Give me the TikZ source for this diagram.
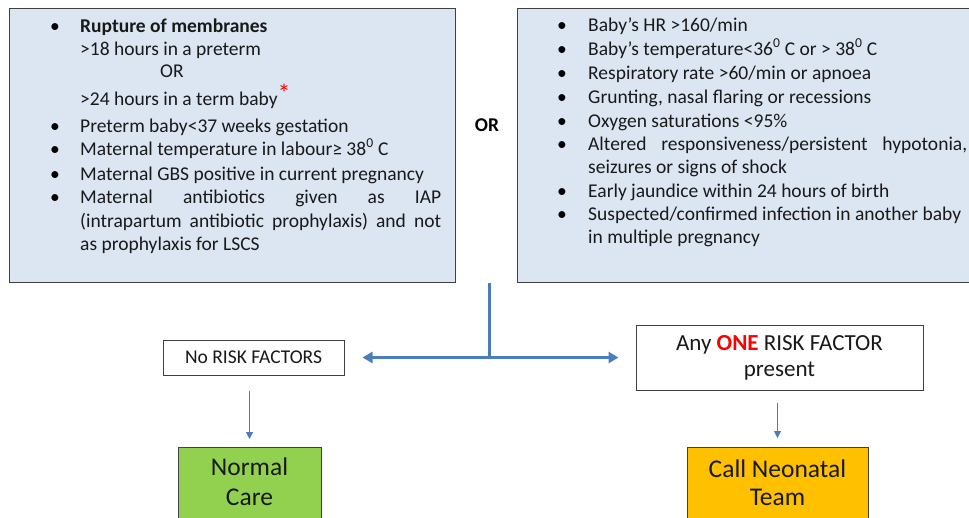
\documentclass[tikz,border=0pt]{standalone}
\usepackage{fontspec}
\setmainfont{Carlito}
\usetikzlibrary{arrows.meta}
\definecolor{boxblue}{HTML}{DCE6F2}
\definecolor{edgegray}{HTML}{404040}
\definecolor{arrowblue}{HTML}{4A7EBB}
\definecolor{careGreen}{HTML}{92D050}
\definecolor{teamOrange}{HTML}{FFC000}
\definecolor{oneRed}{HTML}{FF0000}
\tikzset{
  riskbox/.style={draw=edgegray, line width=1.4pt, fill=boxblue, inner sep=0pt, anchor=north west},
  txt/.style={anchor=base west, inner sep=0pt, font=\fontsize{19.5}{23}\selectfont, text=black!90},
  bul/.style={anchor=base, inner sep=0pt, font=\fontsize{19.5}{23}\selectfont},
  flowbox/.style={draw=edgegray, line width=1pt, fill=white, inner sep=0pt},
  endbox/.style={draw=edgegray, line width=1pt, inner sep=0pt, anchor=north},
  endtxt/.style={anchor=base, inner sep=0pt, font=\fontsize{25.5}{30}\selectfont, text=black!90},
  link/.style={draw=arrowblue, line width=3pt},
  bigtip/.style={-{Triangle[length=10pt,width=11pt]}},
  downarrow/.style={draw=arrowblue, line width=1pt, -{Triangle[length=7pt,width=7pt]}}
}
\begin{document}
\begin{tikzpicture}[x=1pt,y=-1pt]
\clip (0,0) rectangle (969,517);
\fill[white] (0,0) rectangle (969,517);

% risk factor boxes
\node[riskbox, minimum width=446pt, minimum height=274pt] (leftbox) at (9,8) {};
\node[riskbox, minimum width=470pt, minimum height=274pt] (rightbox) at (517,8) {};

% left box text
\node[bul] (lb1) at (55,32) {•};
\node[txt] (l1) at (80,32) {\textbf{Rupture of membranes}};
\node[txt] (l2) at (80,55) {>18 hours in a preterm};
\node[txt] (l3) at (160,77) {OR};
\node[txt] (l4) at (80,105) {>24 hours in a term baby\textcolor{oneRed}{\raisebox{0.3ex}{\fontsize{26}{26}\selectfont *}}};
\node[bul] (lb5) at (55,132) {•};
\node[txt] (l5) at (80,132) {Preterm baby<37 weeks gestation};
\node[bul] (lb6) at (55,155) {•};
\node[txt] (l6) at (80,155) {Maternal temperature in labour≥ 38\textsuperscript{0} C};
\node[bul] (lb7) at (55,180) {•};
\node[txt] (l7) at (80,180) {Maternal GBS positive in current pregnancy};
\node[bul] (lb8) at (55,203) {•};
\node[txt] (l8) at (80,203) {\makebox[361pt][s]{Maternal antibiotics given as IAP}};
\node[txt] (l9) at (80,227) {\makebox[361pt][s]{(intrapartum antibiotic prophylaxis) and not}};
\node[txt] (l10) at (80,250) {as prophylaxis for LSCS};

% OR
\node[anchor=center, inner sep=0pt, font=\fontsize{19.5}{23}\selectfont\bfseries] (ortxt) at (487,125) {OR};

% right box text
\node[bul] (rb1) at (562,31) {•};
\node[txt] (r1) at (588,31) {Baby’s HR >160/min};
\node[bul] (rb2) at (562,55) {•};
\node[txt] (r2) at (588,55) {Baby’s temperature<36\textsuperscript{0} C or > 38\textsuperscript{0} C};
\node[bul] (rb3) at (562,79) {•};
\node[txt] (r3) at (588,79) {Respiratory rate >60/min or apnoea};
\node[bul] (rb4) at (562,103) {•};
\node[txt] (r4) at (588,103) {Grunting, nasal flaring or recessions};
\node[bul] (rb5) at (562,127) {•};
\node[txt] (r5) at (588,127) {Oxygen saturations <95\%};
\node[bul] (rb6) at (562,150) {•};
\node[txt] (r6) at (588,150) {\makebox[379pt][s]{Altered responsiveness/persistent hypotonia,}};
\node[txt] (r7) at (588,173) {seizures or signs of shock};
\node[bul] (rb8) at (562,197) {•};
\node[txt] (r8) at (588,197) {Early jaundice within 24 hours of birth};
\node[bul] (rb9) at (562,220) {•};
\node[txt] (r9) at (588,220) {Suspected/confirmed infection in another baby};
\node[txt] (r10) at (588,243) {in multiple pregnancy};

% decision boxes
\node[flowbox, minimum width=181pt, minimum height=35pt, font=\fontsize{19.5}{22}\selectfont, text=black!90] (norisk) at (253.5,357.5) {No RISK FACTORS};
\node[flowbox, minimum width=287pt, minimum height=65pt, align=center, font=\fontsize{23}{26}\selectfont, text=black!90] (anyone) at (779.5,357.5) {Any \textcolor{oneRed}{\textbf{ONE}} RISK FACTOR\\present};

% outcome boxes
\node[endbox, fill=careGreen, minimum width=143pt, minimum height=100pt] (normal) at (249.5,447) {};
\node[endtxt] (n1) at (249.5,475) {Normal};
\node[endtxt] (n2) at (249.5,505) {Care};
\node[endbox, fill=teamOrange, minimum width=181pt, minimum height=100pt] (team) at (777.5,447) {};
\node[endtxt] (t1) at (777.5,477) {Call Neonatal};
\node[endtxt] (t2) at (777.5,505) {Team};

% connectors
\coordinate (top) at (489,283);
\coordinate (junc) at (489,357.5);
\draw[link] (top) -- (junc);
\draw[link, bigtip, shorten >=18pt] (junc) -- (norisk.east);
\draw[link, bigtip, shorten >=17pt] (junc) -- (anyone.west);
\draw[downarrow, shorten <=15pt, shorten >=8pt] (norisk.south -| normal.north) -- (normal.north);
\draw[downarrow, shorten <=12pt, shorten >=9pt] (anyone.south -| team.north) -- (team.north);
\end{tikzpicture}
\end{document}
